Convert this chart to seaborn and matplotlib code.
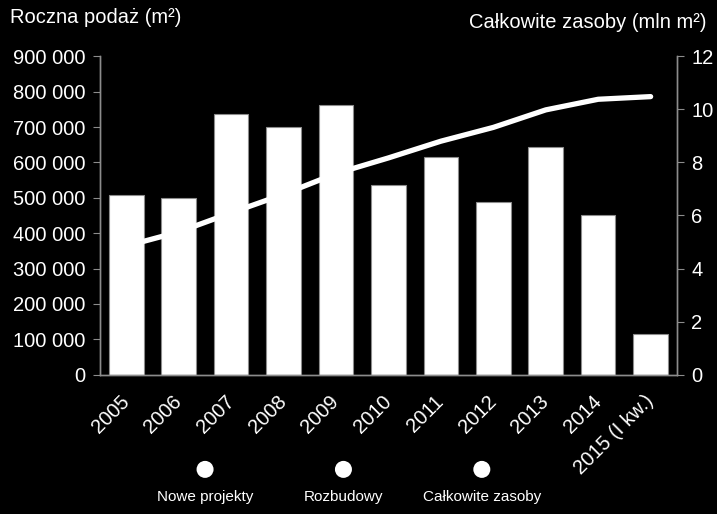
import numpy as np
import pandas as pd
import matplotlib
matplotlib.use("Agg")
import matplotlib.pyplot as plt
import seaborn as sns

years = ["2005", "2006", "2007", "2008", "2009", "2010", "2011", "2012",
         "2013", "2014", "2015 (I kw.)"]
annual_supply = [508000, 500000, 736000, 699000, 763000, 537000, 614000,
                 487000, 644000, 450000, 114000]
total_stock = [4.85, 5.38, 6.10, 6.80, 7.58, 8.17, 8.80, 9.32, 9.98, 10.38, 10.48]
left_ticks = [0, 100000, 200000, 300000, 400000, 500000, 600000, 700000, 800000, 900000]
right_ticks = [0, 2, 4, 6, 8, 10, 12]
legend_labels = ["Nowe projekty", "Rozbudowy", "Całkowite zasoby"]

sns.set_style("dark", {"axes.facecolor": "black", "figure.facecolor": "black"})
plt.rcParams['font.family'] = ['Liberation Sans', 'DejaVu Sans']
plt.rcParams['text.color'] = 'white'

grey = '#8c8c8c'
fs = 14.5
df = pd.DataFrame({"rok": years, "podaz": annual_supply, "zasoby": total_stock})

fig = plt.figure(figsize=(7.17, 5.14), dpi=100)
ax = fig.add_axes([0.1395, 0.271, 0.8045, 0.6195])
sns.barplot(data=df, x="rok", y="podaz", color="white", saturation=1,
            width=0.66, edgecolor=grey, linewidth=0.8, ax=ax)
ax.set_xlim(-0.5, len(years) - 0.5)
ax.set_ylim(0, 900000)
ax.set_yticks(left_ticks)
ax.set_yticklabels([f"{v:,}".replace(",", " ") for v in left_ticks])
ax.set_xlabel("")
ax.set_ylabel("")

# ticks between categories, labels at the centres
ax.set_xticks(np.arange(-0.5, len(years)), minor=False)
ax.set_xticklabels([])
ax.set_xticks(np.arange(len(years)), minor=True)
ax.set_xticklabels(years, minor=True, rotation=45, ha='right', va='center',
                   rotation_mode='anchor', fontsize=fs, color='white')
ax.tick_params(axis='x', which='minor', length=0, pad=17)
ax.tick_params(axis='x', which='major', length=5, color=grey, direction='out')
ax.tick_params(axis='y', length=5, color=grey, labelsize=fs,
               labelcolor='white', direction='out', pad=5.5)

ax2 = ax.twinx()
sns.lineplot(x=np.arange(len(years)), y=df["zasoby"], color="white",
             linewidth=3.8, ax=ax2, solid_capstyle='round')
ax2.set_ylim(0, 12)
ax2.set_yticks(right_ticks)
ax2.set_ylabel("")
ax2.tick_params(axis='y', length=5, color=grey, labelsize=fs,
                labelcolor='white', direction='out', pad=5.5)

for a in (ax, ax2):
    for side in ["left", "right", "bottom"]:
        a.spines[side].set_visible(True)
        a.spines[side].set_color(grey)
        a.spines[side].set_linewidth(1)
    a.spines["top"].set_visible(False)
    a.grid(False)

fig.text(0.014, 0.966, "Roczna podaż (m²)", fontsize=fs, color='white',
         ha='left', va='center')
fig.text(0.986, 0.956, "Całkowite zasoby (mln m²)", fontsize=fs,
         color='white', ha='right', va='center')

# legend: circles above the labels
lax = fig.add_axes([0.0, 0.0, 1.0, 0.14])
lax.set_facecolor('black')
lax.set_xlim(0, 1)
lax.set_ylim(0, 1)
lax.axis('off')
for i, lab in enumerate(legend_labels):
    cx = 0.286 + i * 0.193
    lax.scatter([cx], [0.62], s=150, color='white', edgecolors='none')
    lax.text(cx, 0.23, lab, fontsize=11, color='white', ha='center', va='center')

fig.savefig("out.png", dpi=100, facecolor='black')
